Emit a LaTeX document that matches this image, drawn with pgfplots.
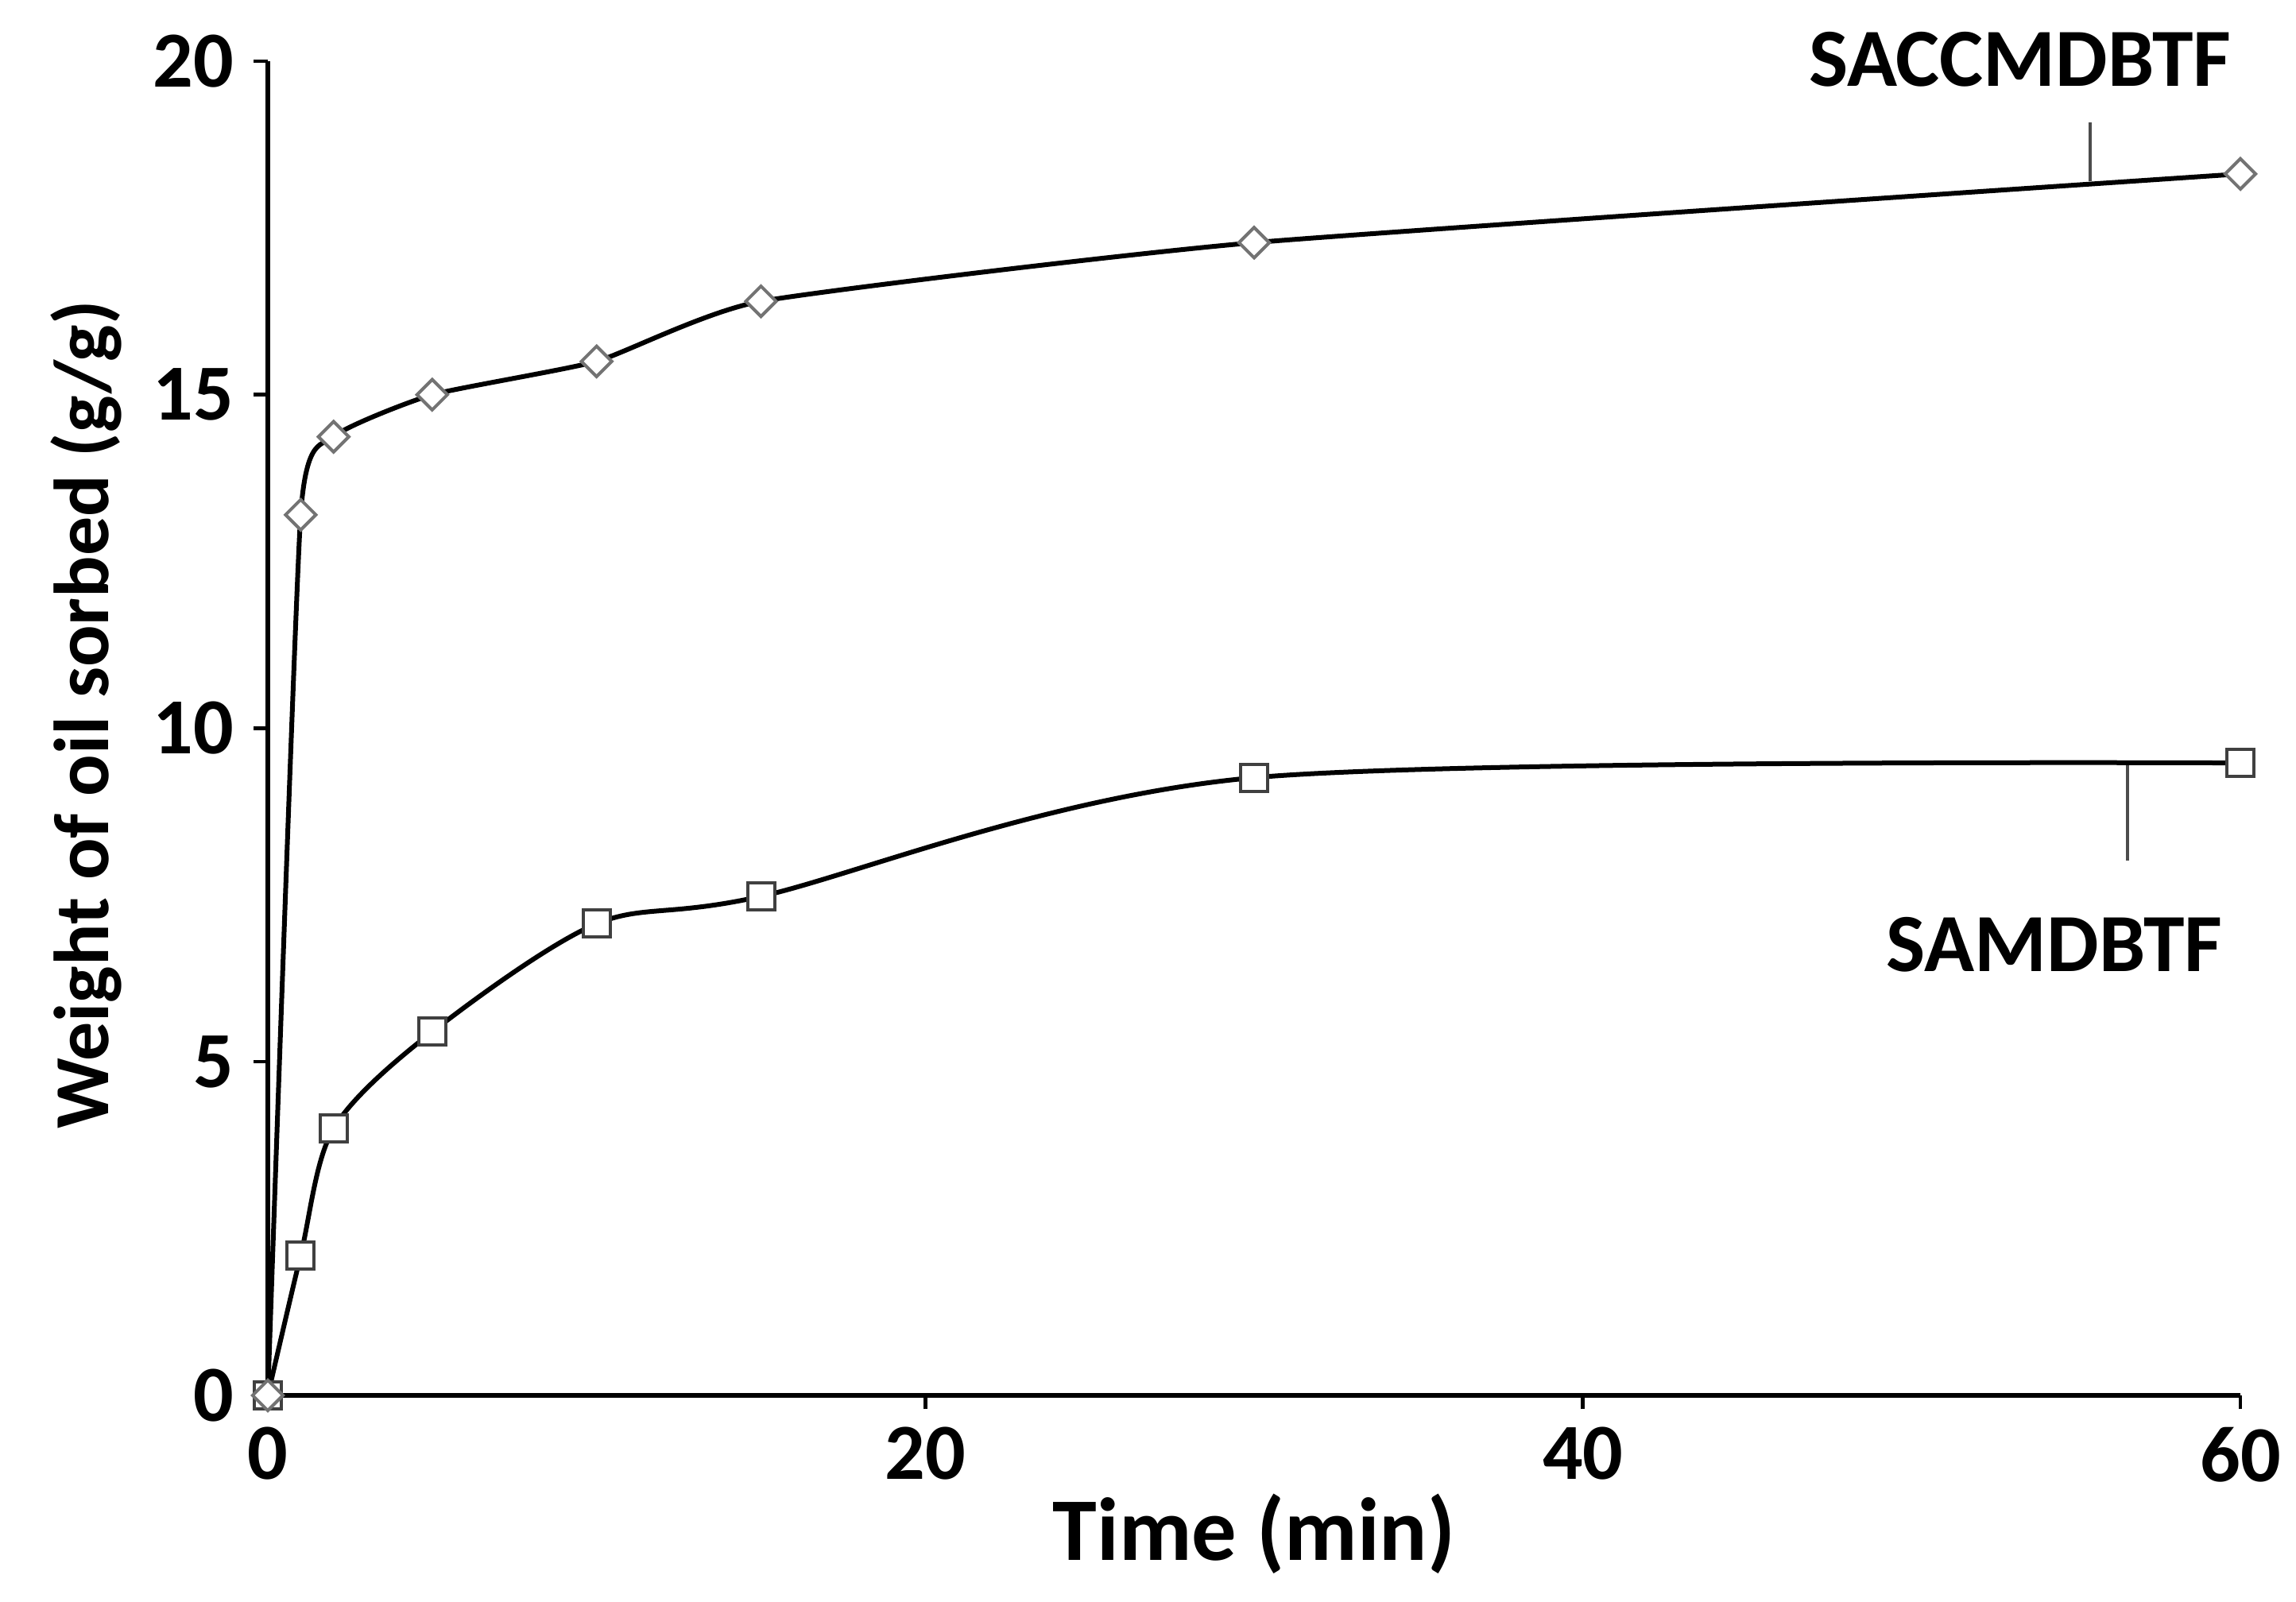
\documentclass[border=0pt]{standalone}
\usepackage{fontspec}
\setmainfont{Carlito}
\usepackage{pgfplots}
\pgfplotsset{compat=1.18}

\begin{document}
\begin{tikzpicture}
  \path[use as bounding box] (-67.4pt,-52pt) rectangle (510.4pt,351.2pt);
  \begin{axis}[
      scale only axis,
      width=496.4pt, height=335.8pt,
      xmin=0, xmax=60, ymin=0, ymax=20,
      axis lines*=left,
      axis line style={-, line width=1.1pt},
      xtick={0,20,40,60},
      ytick={0,5,10,15,20},
      tick align=outside,
      major tick length=3.5pt,
      tick style={line width=0.9pt, black},
      /pgf/number format/assume math mode=true,
      ticklabel style={font=\fontsize{20}{24}\selectfont\bfseries},
      yticklabel style={xshift=-1.5pt},
      xticklabel style={yshift=-1pt},
      xlabel={Time (min)},
      ylabel={Weight of oil sorbed (g/g)},
      xlabel style={font=\fontsize{22.5}{27}\selectfont\bfseries,
        at={(axis description cs:0.5,0)}, anchor=base, yshift=-41.6pt},
      ylabel style={font=\fontsize{19.6}{24}\selectfont\bfseries,
        at={(axis description cs:-0.0806,0.51)}, anchor=base},
      clip=false,
    ]
    % SAMDBTF
    \addplot[black, line width=1.2pt, smooth,
      mark=square*, mark size=3.4pt,
      mark options={fill=white, draw=black!75, line width=0.8pt}]
      coordinates {(0,0) (1,2.1) (2,4.0) (5,5.45) (10,7.07) (15,7.48) (30,9.26) (60,9.48)};
    % SACCMDBTF
    \addplot[black, line width=1.2pt, smooth, tension=0.3,
      mark=square*, mark size=2.7pt,
      mark options={rotate=45, fill=white, draw=black!55, line width=0.8pt}]
      coordinates {(0,0) (1,13.2) (2,14.37) (5,15.0) (10,15.5) (15,16.4) (30,17.28) (60,18.31)};

    \draw[black!70, line width=0.8pt] (axis cs:55.43,19.08) -- (axis cs:55.43,18.2);
    \draw[black!70, line width=0.8pt] (axis cs:56.56,9.45) -- (axis cs:56.56,8.02);
    \node[anchor=base, font=\fontsize{20.8}{25}\selectfont\bfseries, inner sep=0pt]
      at (axis cs:53.3,19.63) {SACCMDBTF};
    \node[anchor=base, font=\fontsize{20.8}{25}\selectfont\bfseries, inner sep=0pt]
      at (axis cs:54.35,6.36) {SAMDBTF};
  \end{axis}
\end{tikzpicture}
\end{document}
